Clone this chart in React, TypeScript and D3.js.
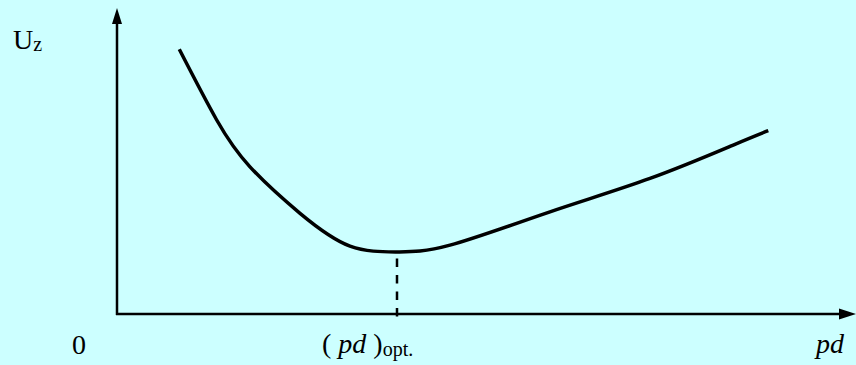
import React from "react";
import * as d3 from "d3";

// Paschen-type curve: breakdown voltage U_z versus product pd (arbitrary units)
const pdValues = [0.844, 1.351, 1.802, 2.48, 3.157, 3.794, 4.512, 5.867, 7.222, 8.35, 8.825];
const uzValues = [8.65, 6.34, 4.81, 3.29, 2.22, 2.03, 2.25, 3.34, 4.43, 5.52, 5.99];
const pdOpt = 3.794;
const uzMin = 2.03;

const W = 856;
const H = 365;
const BG = "#CCFFFF";
const FONT = "Liberation Serif";

export default function App() {
  const x = d3.scaleLinear().domain([0, 10]).range([117, 855]);
  const y = d3.scaleLinear().domain([0, 10]).range([314, 8]);

  const pts: [number, number][] = pdValues.map((p, i) => [p, uzValues[i]]);
  const line = d3
    .line<[number, number]>()
    .x((d) => x(d[0]))
    .y((d) => y(d[1]))
    .curve(d3.curveNatural);

  const x0 = x(0);
  const y0 = y(0);

  return (
    <svg
      width={W}
      height={H}
      style={{ position: "absolute", left: 0, top: 0, display: "block" }}
    >
      <rect x={0} y={0} width={W} height={H} fill={BG} />
      {/* axes */}
      <line x1={x0} y1={y0 + 1} x2={x0} y2={22} stroke="#000" strokeWidth={2.5} />
      <path d={`M${x0},8 L${x0 - 5},24 L${x0 + 5},24 Z`} fill="#000" />
      <line x1={x0 - 1} y1={y0} x2={W - 14} y2={y0} stroke="#000" strokeWidth={2.5} />
      <path d={`M${W},${y0} L${W - 17},${y0 - 5.5} L${W - 17},${y0 + 5.5} Z`} fill="#000" />

      {/* optimum marker, dashed from the axis up to the minimum */}
      <line
        x1={x(pdOpt)}
        y1={y0 + 2.5}
        x2={x(pdOpt)}
        y2={y(uzMin)}
        stroke="#000"
        strokeWidth={2.5}
        strokeDasharray="8.5,8"
      />

      {/* curve */}
      <path d={line(pts) ?? ""} fill="none" stroke="#000" strokeWidth={3.5} />

      {/* labels */}
      <text x={13} y={49} fontFamily={FONT} fontSize={28} fill="#000">
        U<tspan fontSize={20} dy={2}>z</tspan>
      </text>
      <text x={72} y={354} fontFamily={FONT} fontSize={28} fill="#000">
        0
      </text>
      <text x={322} y={353} fontFamily={FONT} fontSize={28} fill="#000">
        ( <tspan fontStyle="italic">pd</tspan> )<tspan fontSize={20} dy={3}>opt.</tspan>
      </text>
      <text x={816} y={353} fontFamily={FONT} fontSize={28} fontStyle="italic" fill="#000">
        pd
      </text>
    </svg>
  );
}
